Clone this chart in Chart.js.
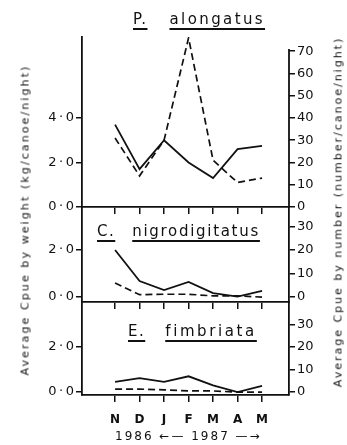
<!DOCTYPE html>
<html>
<head>
<meta charset="utf-8">
<script src="https://cdn.jsdelivr.net/npm/chart.js@4.4.1/dist/chart.umd.min.js"></script>
<style>
  html, body { margin: 0; padding: 0; background: #fff; }
  #wrap { position: relative; width: 347px; height: 445px; overflow: hidden; font-family: "DejaVu Sans", sans-serif; color: #111; }
  canvas { position: absolute; left: 0; top: 0; }
  .txt { position: absolute; white-space: nowrap; }
  .u { text-decoration: underline; text-underline-offset: 4px; text-decoration-thickness: 1.5px; }
  .title { font-size: 15px; letter-spacing: 1.5px; }
  .ytitle { font-size: 11px; transform: translate(-50%, -50%) rotate(-90deg); }
</style>
</head>
<body>
<div id="wrap">
  <canvas id="c1" width="347" height="445"></canvas>
  <canvas id="c2" width="347" height="445"></canvas>
  <canvas id="c3" width="347" height="445"></canvas>

  <div class="txt title" style="left:133px; top:10px;"><span class="u">P.</span><span class="u" style="margin-left:22px; letter-spacing:2.4px;">alongatus</span></div>
  <div class="txt title" style="left:97px; top:222px;"><span class="u">C.</span><span class="u" style="margin-left:17px; letter-spacing:1.7px;">nigrodigitatus</span></div>
  <div class="txt title" style="left:128px; top:322px;"><span class="u">E.</span><span class="u" style="margin-left:20px; letter-spacing:2.6px;">fimbriata</span></div>

  <div class="txt ytitle" style="left:25px; top:220px; letter-spacing:2.1px;">Average Cpue by weight (kg/canoe/night)</div>
  <div class="txt ytitle" style="left:338px; top:212px; letter-spacing:2.0px;">Average Cpue by number (number/canoe/night)</div>

  <div class="txt" style="left:115px; top:429px; font-size:12px; letter-spacing:2px;">1986 ←— 1987 —→</div>
</div>
<script>
const months = ['N', 'D', 'J', 'F', 'M', 'A', 'M'];

// P. alongatus
const pelWeight = [3.7, 1.7, 3.0, 2.0, 1.3, 2.6, 2.75];
const pelNumber = [31, 14, 30, 76, 21, 11, 13];
// C. nigrodigitatus
const chrWeight = [2.0, 0.68, 0.3, 0.64, 0.17, 0.02, 0.26];
const chrNumber = [6, 1, 1.2, 1.2, 0.5, 0.5, 0];
// E. fimbriata
const ethWeight = [0.45, 0.62, 0.45, 0.7, 0.3, 0, 0.27];
const ethNumber = [1.3, 1.3, 1, 0.5, 0.5, 0, 0];

const leftTicksTop = [0, 2, 4];
const rightTicksTop = [0, 10, 20, 30, 40, 50, 60, 70];
const leftTicksLow = [0, 2];
const rightTicksLow = [0, 10, 20, 30];

const ink = '#111';

// right axis line of the top panel only runs up to the 70 tick
const shortRightLine = {
    id: 'shortRightLine',
    afterDraw(chart) {
        const s = chart.scales.y2;
        const ctx = chart.ctx;
        ctx.save();
        ctx.strokeStyle = ink;
        ctx.lineWidth = 1.8;
        ctx.beginPath();
        ctx.moveTo(s.left, s.getPixelForValue(71));
        ctx.lineTo(s.left, s.bottom);
        ctx.stroke();
        ctx.restore();
    }
};

function panel(id, weight, number, o) {
    return new Chart(document.getElementById(id), {
        type: 'line',
        data: {
            datasets: [
                {
                    data: weight.map((v, i) => ({x: i, y: v})),
                    yAxisID: 'y',
                    borderColor: ink,
                    borderWidth: 1.8,
                    pointRadius: 0,
                    tension: 0,
                },
                {
                    data: number.map((v, i) => ({x: i, y: v})),
                    yAxisID: 'y2',
                    borderColor: ink,
                    borderWidth: 1.7,
                    borderDash: [7, 4],
                    pointRadius: 0,
                    tension: 0,
                },
            ]
        },
        plugins: o.plugins || [],
        options: {
            responsive: false,
            animation: false,
            devicePixelRatio: 1,
            events: [],
            layout: {padding: {left: 0, right: 0, top: o.top, bottom: o.bottom}},
            plugins: {legend: {display: false}, tooltip: {enabled: false}},
            scales: {
                x: {
                    type: 'linear',
                    min: -1.35,
                    max: 7.1,
                    afterBuildTicks: s => { s.ticks = months.map((m, i) => ({value: i})); },
                    afterFit: s => { s.height = o.xh; },
                    grid: {drawOnChartArea: false, tickLength: 7, color: ink, lineWidth: 1.5},
                    border: {color: ink, width: 1.8},
                    ticks: {
                        display: o.showMonths,
                        autoSkip: false,
                        maxRotation: 0,
                        padding: 11,
                        color: ink,
                        font: {family: 'DejaVu Sans', size: 12, weight: 'bold'},
                        callback: v => months[v],
                    },
                },
                y: {
                    position: 'left',
                    min: o.min,
                    max: o.max,
                    afterBuildTicks: s => { s.ticks = o.left.map(v => ({value: v})); },
                    afterFit: s => { s.width = 82; },
                    grid: {drawOnChartArea: false, tickLength: 6, color: ink, lineWidth: 1.5},
                    border: {color: ink, width: 1.8},
                    ticks: {
                        autoSkip: false,
                        padding: 2,
                        color: ink,
                        font: {family: 'DejaVu Sans', size: 13},
                        callback: v => v.toFixed(1).replace('.', '\u2009·\u2009'),
                    },
                },
                y2: {
                    position: 'right',
                    min: o.min * 10,
                    max: o.max * 10,
                    afterBuildTicks: s => { s.ticks = o.right.map(v => ({value: v})); },
                    afterFit: s => { s.width = 58; },
                    grid: {drawOnChartArea: false, tickLength: 6, color: ink, lineWidth: 1.5},
                    border: {display: o.rightBorder, color: ink, width: 1.8},
                    ticks: {
                        autoSkip: false,
                        padding: 2,
                        color: ink,
                        font: {family: 'DejaVu Sans', size: 13},
                    },
                },
            },
        },
    });
}

panel('c1', pelWeight, pelNumber, {
    top: 37, bottom: 445 - 207 - 10, xh: 10, showMonths: false,
    min: 0, max: 7.64, left: leftTicksTop, right: rightTicksTop,
    rightBorder: false, plugins: [shortRightLine],
});
panel('c2', chrWeight, chrNumber, {
    top: 207, bottom: 445 - 302 - 10, xh: 10, showMonths: false,
    min: -0.21, max: 3.83, left: leftTicksLow, right: rightTicksLow,
    rightBorder: true,
});
panel('c3', ethWeight, ethNumber, {
    top: 302, bottom: 445 - 395 - 30, xh: 30, showMonths: true,
    min: -0.13, max: 4.0, left: leftTicksLow, right: rightTicksLow,
    rightBorder: true,
});
</script>
</body>
</html>
